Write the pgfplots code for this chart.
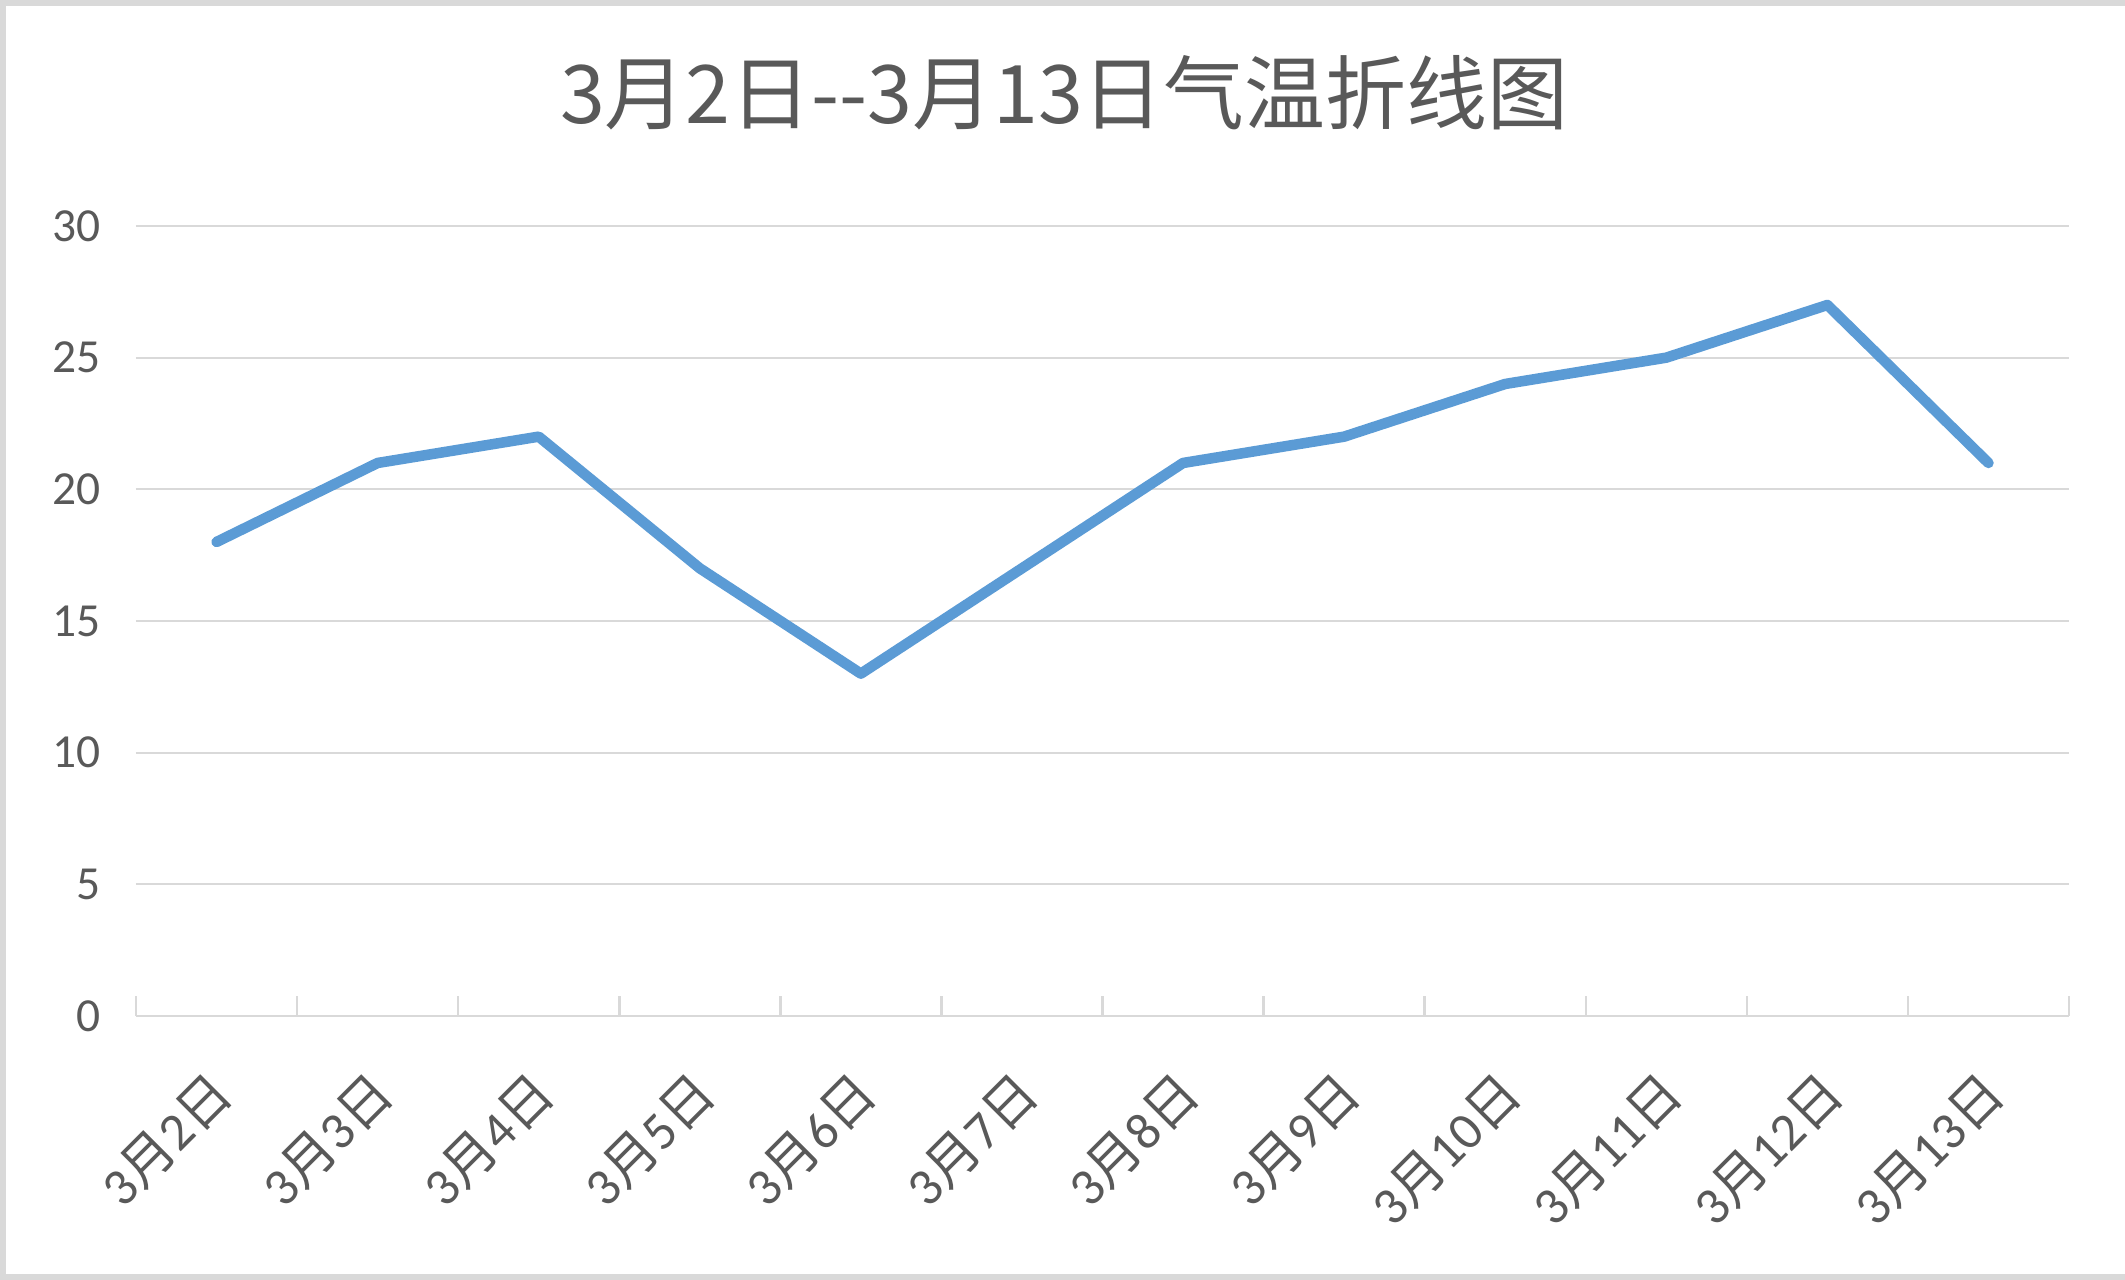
\documentclass[border=0pt]{standalone}
\usepackage{pgfplots}
\pgfplotsset{compat=1.18}
\usepackage{fontspec}
\setmainfont{Carlito}
\newfontfamily\cjk{Noto Sans CJK SC}
\definecolor{txt}{HTML}{595959}
\definecolor{grd}{HTML}{D9D9D9}
\definecolor{ln}{HTML}{5B9BD5}
\newcommand\lab[1]{3{\cjk 月}#1{\cjk 日}}
\begin{document}
\begin{tikzpicture}
\path[use as bounding box] (0,0) rectangle (21.25cm,12.8cm);
\draw[grd, line width=0.6mm] (21.25cm,0.3mm) -- (0.3mm,0.3mm) -- (0.3mm,12.77cm) -- (21.25cm,12.77cm);
\node[text=txt, font=\cjk\fontsize{23}{27}\selectfont] at (10.64cm,11.87cm) {3月2日--3月13日气温折线图};
\begin{axis}[
  at={(1.36cm,2.64cm)}, anchor=south west,
  scale only axis, width=19.33cm, height=7.9cm,
  xmin=-0.5, xmax=11.5, ymin=0, ymax=30,
  axis line style={draw=none},
  ytick={0,5,...,30},
  xtick={0,...,11},
  xticklabels={\lab{2},\lab{3},\lab{4},\lab{5},\lab{6},\lab{7},\lab{8},\lab{9},\lab{10},\lab{11},\lab{12},\lab{13}},
  minor xtick={-0.5,0.5,...,11.5},
  major tick length=0pt,
  minor tick length=2mm,
  tick pos=left,
  minor tick style={grd, line width=0.25mm},
  ymajorgrids, grid style={grd, line width=0.22mm},
  /pgf/number format/assume math mode=true,
  yticklabel style={text=txt, font=\fontsize{13.5}{15}\selectfont, inner sep=0pt, xshift=-3.5mm},
  xticklabel style={text=txt, font=\fontsize{15}{17}\selectfont, inner sep=0pt, xshift=-1mm, yshift=-5.1mm, rotate=45, anchor=north east},
  clip=false,
]
\draw[grd, line width=0.25mm] (axis cs:-0.5,0) -- (axis cs:11.5,0);
\addplot[ln, line width=3pt, line join=round, line cap=round] coordinates {
(0,18) (1,21) (2,22) (3,17) (4,13) (5,17) (6,21) (7,22) (8,24) (9,25) (10,27) (11,21)
};
\end{axis}
\end{tikzpicture}
\end{document}
